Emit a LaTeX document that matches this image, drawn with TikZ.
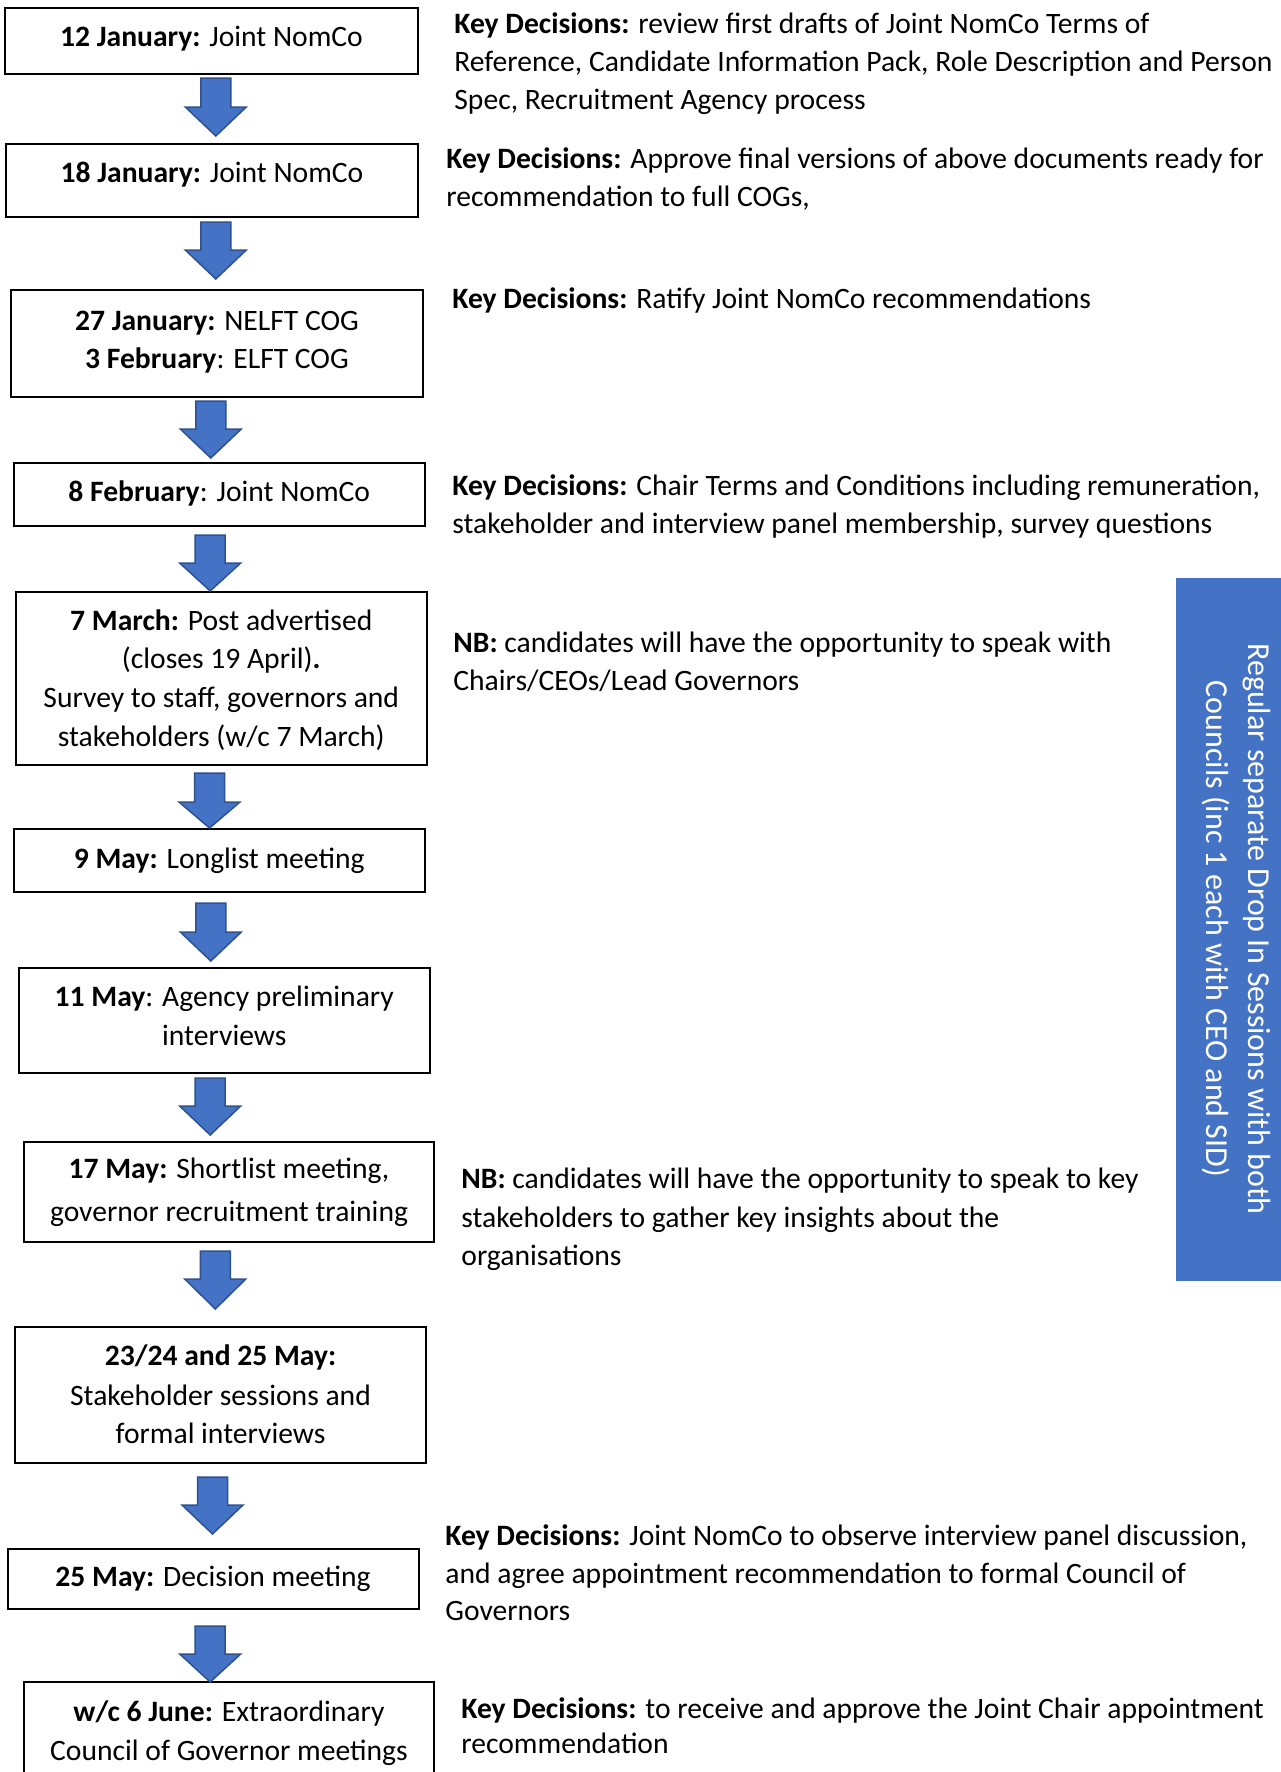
\documentclass[tikz,border=0pt]{standalone}
\usepackage{fontspec}
\setmainfont{Carlito}
\definecolor{arrowblue}{RGB}{68,114,196}
\definecolor{arrowedge}{RGB}{47,82,143}
\definecolor{panelblue}{RGB}{68,114,196}
\newcommand{\mainsz}{\fontsize{14.8pt}{19pt}\selectfont}
\newcommand{\sidesz}{\fontsize{16pt}{20pt}\selectfont}
\newcommand{\tl}[4]{\node[ltxt] (#1) at (#2,#3) {#4};}
\newcommand{\cl}[4]{\node[ctxt] (#1) at (#2,#3) {#4};}
\newcommand{\barr}[5]{\filldraw[barrow] (#2-15,#3) -- (#2+15,#3) -- (#2+15,#4) -- (#2+30.5,#4) -- (#2,#5) -- (#2-30.5,#4) -- (#2-15,#4) -- cycle;}
\tikzset{
  stepbox/.style={draw=black, line width=1pt, inner sep=0pt, outer sep=0pt, rectangle},
  ltxt/.style={anchor=base west, inner sep=0pt, font=\mainsz, text=black},
  ctxt/.style={anchor=base, inner sep=0pt, font=\mainsz, text=black},
  sidetxt/.style={anchor=base, inner sep=0pt, font=\sidesz, text=white, rotate=-90},
  barrow/.style={fill=arrowblue, draw=arrowedge, line width=0.75pt, line join=miter},
}
\begin{document}
\begin{tikzpicture}[x=0.5pt,y=-0.5pt]
\useasboundingbox (0,0) rectangle (1280,1772);
\fill[white] (0,0) rectangle (1280,1772);

% side panel
\fill[panelblue] (1176,578) rectangle (1295,1281);
\node[sidetxt] (s1) at (1248,929) {Regular separate Drop In Sessions with both};
\node[sidetxt] (s2) at (1206,929) {Councils (inc 1 each with CEO and SID)};

% boxes
\node[stepbox, minimum width=206.5pt, minimum height=33pt] (b1) at (211.5,41) {};
\node[stepbox, minimum width=206pt, minimum height=36.5pt] (b2) at (212,180.5) {};
\node[stepbox, minimum width=206pt, minimum height=53.5pt] (b3) at (217,343.5) {};
\node[stepbox, minimum width=205.25pt, minimum height=31.5pt] (b4) at (219.25,494.5) {};
\node[stepbox, minimum width=205.25pt, minimum height=86.5pt] (b5) at (221.25,678.5) {};
\node[stepbox, minimum width=205.25pt, minimum height=31.5pt] (b6) at (219.25,860.5) {};
\node[stepbox, minimum width=205.25pt, minimum height=52.5pt] (b7) at (224.25,1020.5) {};
\node[stepbox, minimum width=205pt, minimum height=50pt] (b8) at (229,1192) {};
\node[stepbox, minimum width=205.5pt, minimum height=68pt] (b9) at (220.5,1395) {};
\node[stepbox, minimum width=205.5pt, minimum height=30pt] (b10) at (213,1579) {};
\node[stepbox, minimum width=205pt, minimum height=60pt] (b11) at (229,1742) {};

% block arrows
\barr{a1}{215.8}{78}{107}{136}
\barr{a2}{215.8}{222}{250}{279}
\barr{a3}{210.8}{401}{429}{458}
\barr{a4}{210.2}{535}{563}{591}
\barr{a5}{209.5}{773}{802}{828}
\barr{a6}{210.8}{903}{932}{961}
\barr{a7}{210.2}{1078}{1106}{1135}
\barr{a8}{215.3}{1251}{1279}{1309}
\barr{a9}{212.5}{1477}{1505}{1534}
\barr{a10}{210.2}{1626}{1654}{1682}

% box texts
\cl{t1}{211.5}{46.5}{\textbf{12 January:} Joint NomCo}
\cl{t2}{212}{182.5}{\textbf{18 January:} Joint NomCo}
\cl{t3a}{217}{330}{\textbf{27 January:} NELFT COG}
\cl{t3b}{217}{368}{\textbf{3 February}: ELFT COG}
\cl{t4}{219.25}{501.5}{\textbf{8 February}: Joint NomCo}
\cl{t5a}{221.25}{630}{\textbf{7 March:} Post advertised}
\cl{t5b}{221.25}{668.5}{(closes 19 April)\textbf{.}}
\cl{t5c}{221.25}{707}{Survey to staff, governors and}
\cl{t5d}{221.25}{746.5}{stakeholders (w/c 7 March)}
\cl{t6}{219.25}{868}{\textbf{9 May:} Longlist meeting}
\cl{t7a}{224.25}{1006.5}{\textbf{11 May}: Agency preliminary}
\cl{t7b}{224.25}{1045}{interviews}
\cl{t8a}{229}{1178.5}{\textbf{17 May:} Shortlist meeting,}
\cl{t8b}{229}{1221}{governor recruitment training}
\cl{t9a}{220.5}{1365}{\textbf{23/24 and 25 May:}}
\cl{t9b}{220.5}{1405}{Stakeholder sessions and}
\cl{t9c}{220.5}{1443}{formal interviews}
\cl{t10}{213}{1586.5}{\textbf{25 May:} Decision meeting}
\cl{t11a}{229}{1721.5}{\textbf{w/c 6 June:} Extraordinary}
\cl{t11b}{229}{1760}{Council of Governor meetings}

% right-hand texts
\tl{k1a}{454}{33}{\textbf{Key Decisions:} review first drafts of Joint NomCo Terms of}
\tl{k1b}{454}{71.5}{Reference, Candidate Information Pack, Role Description and Person}
\tl{k1c}{454}{109}{Spec, Recruitment Agency process}
\tl{k2a}{446}{168}{\textbf{Key Decisions:} Approve final versions of above documents ready for}
\tl{k2b}{446}{206}{recommendation to full COGs,}
\tl{k3}{452}{308}{\textbf{Key Decisions:} Ratify Joint NomCo recommendations}
\tl{k4a}{452}{495}{\textbf{Key Decisions:} Chair Terms and Conditions including remuneration,}
\tl{k4b}{452}{533}{stakeholder and interview panel membership, survey questions}
\tl{k5a}{453}{652}{\textbf{NB:} candidates will have the opportunity to speak with}
\tl{k5b}{453}{690}{Chairs/CEOs/Lead Governors}
\tl{k6a}{461}{1188}{\textbf{NB:} candidates will have the opportunity to speak to key}
\tl{k6b}{461}{1227}{stakeholders to gather key insights about the}
\tl{k6c}{461}{1265}{organisations}
\tl{k7a}{445}{1545}{\textbf{Key Decisions:} Joint NomCo to observe interview panel discussion,}
\tl{k7b}{445}{1583}{and agree appointment recommendation to formal Council of}
\tl{k7c}{445}{1620}{Governors}
\tl{k8a}{461}{1718}{\textbf{Key Decisions:} to receive and approve the Joint Chair appointment}
\tl{k8b}{461}{1753}{recommendation}
\end{tikzpicture}
\end{document}
